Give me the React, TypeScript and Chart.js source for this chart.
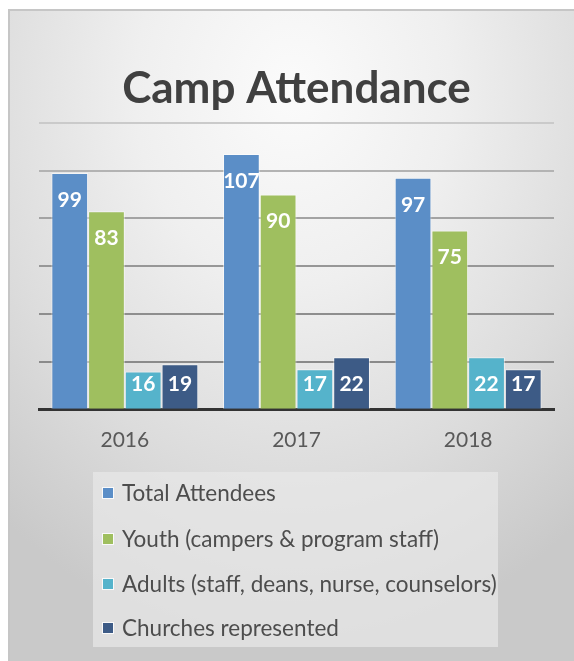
import React, { useEffect, useRef } from "react";
import { Chart, registerables } from "chart.js";

Chart.register(...registerables);

const categories = ["2016", "2017", "2018"];
const seriesNames = [
  "Total Attendees",
  "Youth (campers & program staff)",
  "Adults (staff, deans, nurse, counselors)",
  "Churches represented",
];
const totalAttendees = [99, 107, 97];
const youth = [83, 90, 75];
const adults = [16, 17, 22];
const churches = [19, 22, 17];
const seriesColors = ["#5b8ec7", "#9fbf5f", "#55b3cb", "#3d5b86"];
const titleText = "Camp Attendance";
const yMax = 120;
const yStep = 20;

const FONT = "Lato, 'Open Sans', sans-serif";

const valueLabels = {
  id: "valueLabels",
  afterDatasetsDraw(chart: any) {
    const ctx = chart.ctx;
    ctx.save();
    ctx.font = `bold 21px ${FONT}`;
    ctx.fillStyle = "#ffffff";
    ctx.textAlign = "center";
    ctx.textBaseline = "middle";
    chart.data.datasets.forEach((ds: any, di: number) => {
      const meta = chart.getDatasetMeta(di);
      meta.data.forEach((el: any, i: number) => {
        const y = Math.min(el.y + 27, el.base - 25);
        ctx.fillText(String(ds.data[i]), el.x, y);
      });
    });
    ctx.restore();
  },
};

const boxLegend = {
  id: "boxLegend",
  afterDraw(chart: any) {
    const ctx = chart.ctx;
    const bx = 84, by = 462, bw = 405, bh = 175;
    ctx.save();
    ctx.fillStyle = "rgba(232,232,232,0.7)";
    ctx.fillRect(bx, by, bw, bh);
    ctx.font = `22.5px ${FONT}`;
    ctx.textBaseline = "middle";
    ctx.textAlign = "left";
    const rowY = [483, 529, 574, 618];
    chart.data.datasets.forEach((ds: any, i: number) => {
      const y = rowY[i];
      ctx.fillStyle = "rgba(255,255,255,0.8)";
      ctx.fillRect(93, y - 6, 12, 12);
      ctx.fillStyle = ds.backgroundColor;
      ctx.fillRect(94, y - 5, 10, 10);
      ctx.fillStyle = "#4d4d4d";
      ctx.fillText(ds.label, 113, y + 1);
    });
    ctx.restore();
  },
};

const gridColors: Record<number, string> = {
  0: "rgba(0,0,0,0)",
  20: "#8a8a8a",
  40: "#8e8e8e",
  60: "#979797",
  80: "#a3a3a3",
  100: "#b3b3b3",
  120: "#cacaca",
};

export default function App() {
  const ref = useRef<HTMLCanvasElement>(null);
  useEffect(() => {
    if (!ref.current) return;
    const values = [totalAttendees, youth, adults, churches];
    const chart = new Chart(ref.current, {
      type: "bar",
      data: {
        labels: categories,
        datasets: seriesNames.map((name, i) => ({
          label: name,
          data: values[i],
          backgroundColor: seriesColors[i],
          borderColor: "rgba(255,255,255,0.55)",
          borderWidth: 1,
          barPercentage: 1,
          categoryPercentage: 0.856,
        })),
      },
      options: {
        responsive: false,
        animation: false,
        layout: { padding: { left: 30, right: 20, top: 52, bottom: 190 } },
        plugins: {
          legend: { display: false },
          tooltip: { enabled: false },
          title: {
            display: true,
            text: titleText,
            color: "#404040",
            font: { family: FONT, size: 44, weight: "bold" },
            padding: { top: 0, bottom: 8 },
          },
        },
        scales: {
          x: {
            grid: { display: false, drawTicks: false },
            border: { display: true, color: "#333333", width: 3 },
            ticks: {
              color: "#595959",
              font: { family: FONT, size: 21 },
              padding: 18,
            },
          },
          y: {
            min: 0,
            max: yMax,
            ticks: { display: false, stepSize: yStep },
            border: { display: false },
            grid: {
              drawTicks: false,
              lineWidth: 2,
              color: (c: any) => gridColors[c.tick?.value] ?? "#999",
            },
          },
        },
      },
      plugins: [valueLabels, boxLegend],
    });
    return () => chart.destroy();
  }, []);

  return (
    <div
      style={{
        position: "fixed",
        left: 0,
        top: 0,
        width: 574,
        height: 661,
        background: "#ffffff",
        overflow: "hidden",
      }}
    >
      <div
        style={{
          position: "absolute",
          left: 8,
          top: 9,
          width: 570,
          height: 660,
          border: "2px solid #c6c6c6",
          boxSizing: "border-box",
          background:
            "radial-gradient(ellipse 80% 85% at 50% 12%, #fbfbfb 0%, #efefef 35%, #dcdcdc 70%, #c9c9c9 100%)",
        }}
      />
      <canvas
        ref={ref}
        width={565}
        height={651}
        style={{ position: "absolute", left: 9, top: 10, width: 565, height: 651 }}
      />
    </div>
  );
}
